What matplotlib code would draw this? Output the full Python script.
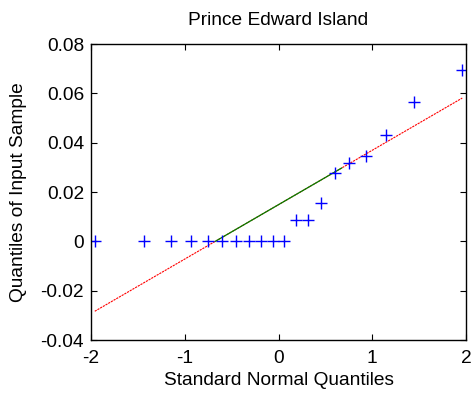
import numpy as np
import matplotlib.pyplot as plt

plt.rcParams['font.family'] = ['Liberation Sans', 'DejaVu Sans']

x_q = [-1.96, -1.44, -1.15, -0.935, -0.755, -0.598, -0.454, -0.319, -0.189, -0.063,
       0.063, 0.189, 0.319, 0.454, 0.598, 0.755, 0.935, 1.15, 1.44, 1.96]
# sorted sample values
y_s = [0, 0, 0, 0, 0, 0, 0, 0, 0, 0,
       0, 0.0086, 0.0086, 0.0155, 0.0277, 0.0318, 0.0346, 0.0431, 0.0565, 0.0694]

xticks = [-2, -1, 0, 1, 2]
yticks = [-0.04, -0.02, 0, 0.02, 0.04, 0.06, 0.08]
ylabels = ['-0.04', '-0.02', '0', '0.02', '0.04', '0.06', '0.08']

x = np.array(x_q)
y = np.array(y_s)

# quartile line like matlab qqplot
q1, q3 = np.percentile(y, [25, 75], method='hazen')
zq1, zq3 = -0.6745, 0.6745
slope = (q3 - q1) / (zq3 - zq1)

fig = plt.figure(figsize=(4.75, 3.98), dpi=100)
ax = fig.add_axes([0.1916, 0.1457, 0.7895, 0.7437])

xe = np.array([x[0], x[-1]])
ax.plot(xe, q1 + slope * (xe - zq1), color='red', lw=0.8, ls=(0, (2, 0.8)))
xm = np.array([zq1, zq3])
ax.plot(xm, q1 + slope * (xm - zq1), color='green', lw=0.9)
ax.plot(x, y, '+', color='blue', ms=9, mew=1.0)

ax.set_xlim(-2, 2)
ax.set_ylim(-0.04, 0.08)
ax.set_xticks(xticks)
ax.set_xticklabels([str(t) for t in xticks])
ax.set_yticks(yticks)
ax.set_yticklabels(ylabels)
ax.tick_params(direction='in', top=True, right=True, labelsize=13.8, length=4)
ax.tick_params(axis='x', pad=7)
ax.tick_params(axis='y', pad=5)
for s in ax.spines.values():
    s.set_linewidth(1.0)

ax.set_title('Prince Edward Island', fontsize=13.8, pad=14)
ax.set_xlabel('Standard Normal Quantiles', fontsize=13.8, labelpad=4)
ax.set_ylabel('Quantiles of Input Sample', fontsize=13.8, labelpad=10)

fig.savefig('out.png', dpi=100)
